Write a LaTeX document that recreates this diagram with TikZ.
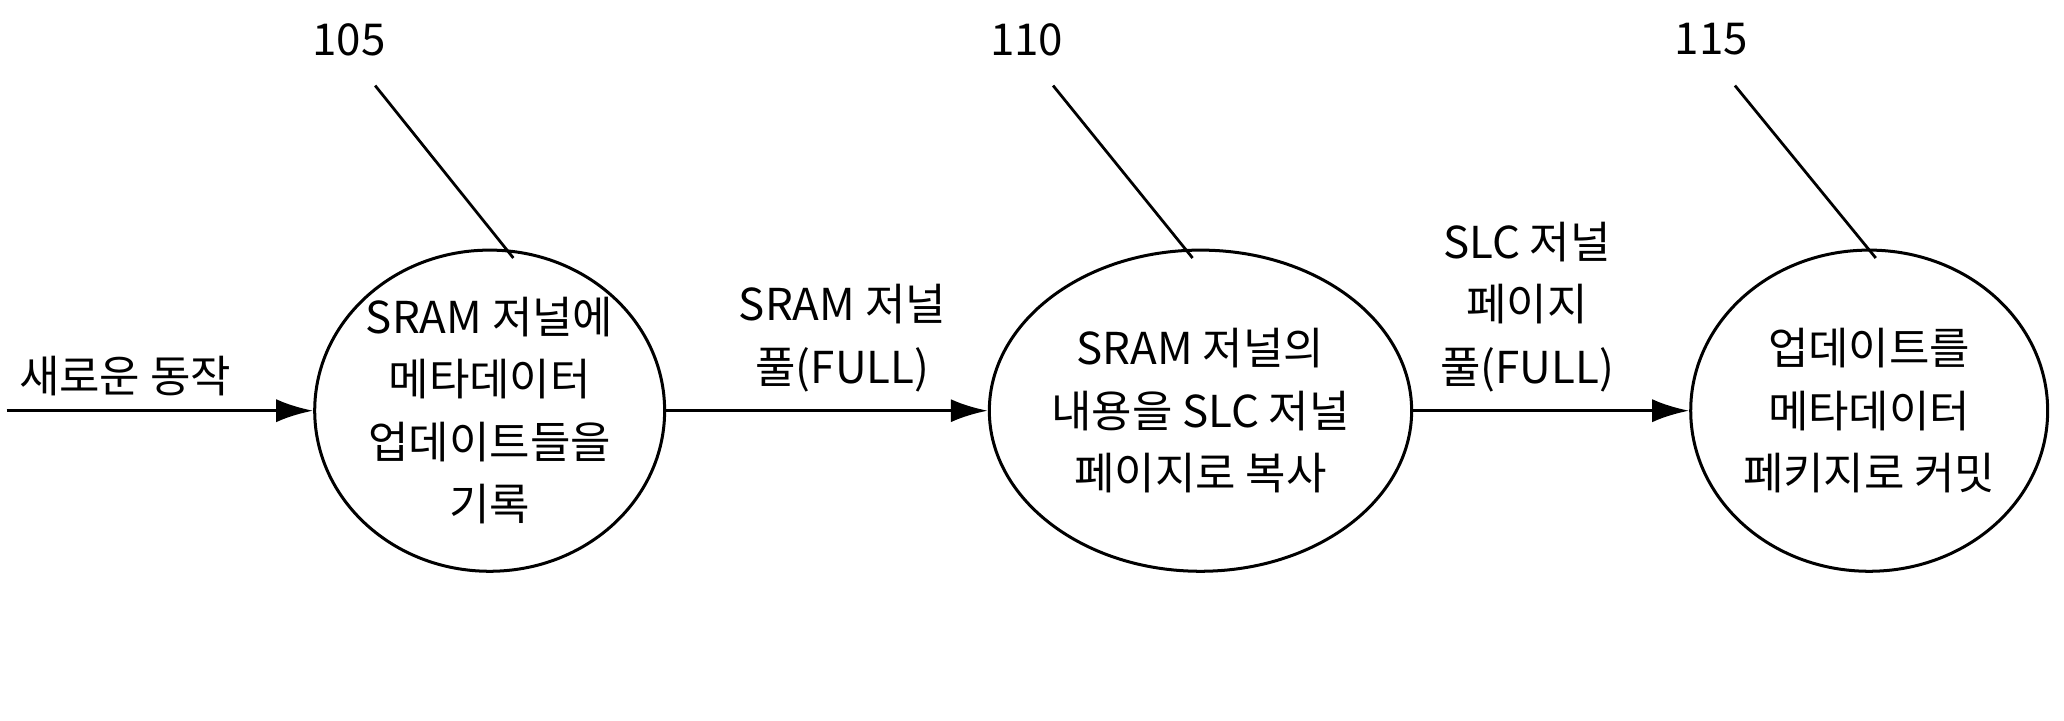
\documentclass[tikz,border=0pt]{standalone}
\usepackage{fontspec}
\setmainfont{Noto Sans CJK KR}
\usetikzlibrary{arrows.meta,shapes.geometric}
\begin{document}
\begin{tikzpicture}[x=0.02cm,y=-0.02cm,
  every node/.style={font=\fontsize{19}{27}\selectfont,align=center},
  st/.style={draw,line width=1.3pt,ellipse,minimum width=240*0.02cm,minimum height=244*0.02cm,inner sep=0pt},
  ar/.style={line width=1.5pt,-{Latex[length=16pt,width=10pt]}},
  ld/.style={line width=1.2pt}]
\useasboundingbox (0,0) rectangle (1568,547);
\node[st] (c1) at (372,312) {SRAM 저널에\\메타데이터\\업데이트들을\\기록};
\node[st] (c2) at (912,312) {SRAM 저널의\\내용을 SLC 저널\\페이지로 복사};
\node[st] (c3) at (1420,312) {업데이트를\\메타데이터\\페키지로 커밋};
\coordinate (s) at (5,312);
\draw[ar] (s) -- (c1.west);
\draw[ar] (c1.east) -- (c2.west);
\draw[ar] (c2.east) -- (c3.west);
\node at (95,286) {새로운 동작};
\node at (640,257) {SRAM 저널\\풀(FULL)};
\node at (1160,233) {SLC 저널\\페이지\\풀(FULL)};
\node (n1) at (265,30) {105};
\node (n2) at (780,30) {110};
\node (n3) at (1300,30) {115};
\coordinate (a1) at (285,65); \coordinate (b1) at (390,196);
\coordinate (a2) at (800,65); \coordinate (b2) at (906,196);
\coordinate (a3) at (1318,65); \coordinate (b3) at (1425,196);
\draw[ld] (a1)--(b1); \draw[ld] (a2)--(b2); \draw[ld] (a3)--(b3);
\end{tikzpicture}
\end{document}
